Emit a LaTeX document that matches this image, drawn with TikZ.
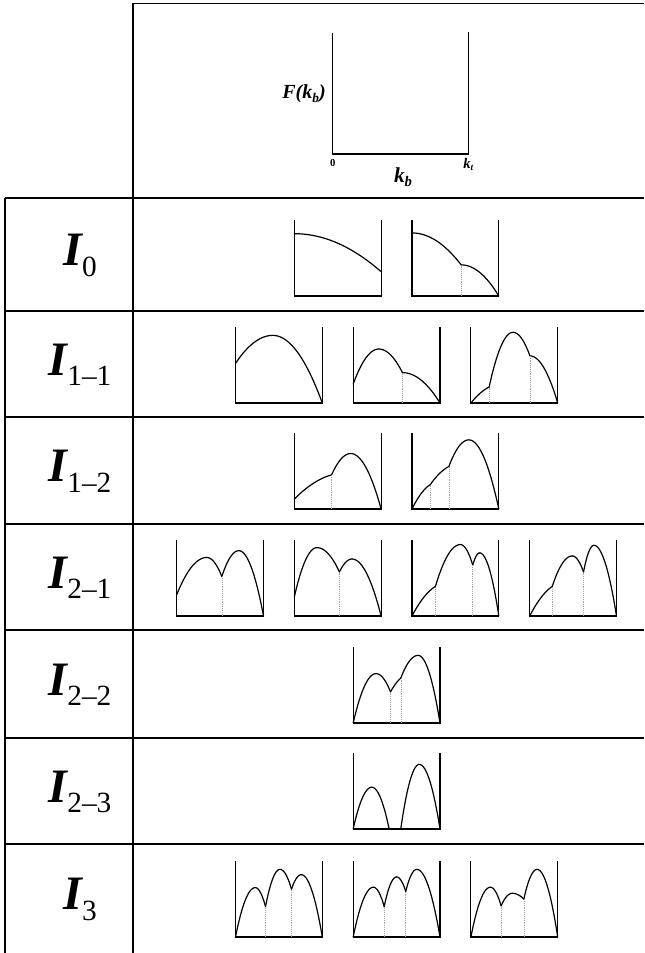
\documentclass[tikz,border=0pt]{standalone}
\usepackage{fontspec}
\setmainfont{Liberation Serif}
\usetikzlibrary{positioning}

% one parabolic piece from (#1,#2) to (#3,#4), vertex at x=#5
\newcommand{\kseg}[5]{\draw[curve] plot[domain=#1:#3,samples=20,smooth]
  (\x,{#2+(#2-#4)/((#3-#5)*(#3-#5)-(#1-#5)*(#1-#5))*((#1-#5)*(#1-#5)-(\x-#5)*(\x-#5))});}
\newcommand{\karch}[6]{\kseg{#1}{#2}{#3}{#4}{#3}\kseg{#3}{#4}{#5}{#6}{#3}}
\newcommand{\kcut}[2]{\draw[cutline] (#1,0) -- (#1,#2);}
\newcommand{\kframe}{\draw[axisline] (0,1) |- (1,0) -- (1,1);}
\newcommand{\rowlab}[1]{{\fontsize{36}{36}\selectfont\bfseries\itshape I}\raisebox{-8.2pt}{\fontsize{22}{22}\selectfont #1}}

\begin{document}
\begin{tikzpicture}[
  x=0.75pt, y=-0.75pt,
  rule/.style={line width=0.9pt, black},
  axisline/.style={line width=0.8pt, black},
  curve/.style={line width=0.9pt, black, line cap=round, line join=round},
  cutline/.style={line width=0.4pt, gray!70, densely dotted},
  wellbox/.style 2 args={shift={(#1,#2)}, x=65.1pt, y=57pt},
  rowname/.style={anchor=base, inner sep=0pt},
  axislab/.style={inner sep=0pt, font=\bfseries\itshape}
]
\useasboundingbox (0,0) rectangle (644,953);

% table
\draw[rule] (133,953) -- (133,3.3) -- (644,3.3);
\draw[rule] (5,198) -- (5,953);
\foreach \y in {198,311,417,524,630,738,844}
  \draw[rule] (5,\y) -- (644,\y);

% header plot
\coordinate (o) at (332.7,154);
\coordinate (ytop) at (332.7,33);
\coordinate (xend) at (468.3,154);
\coordinate (xtop) at (468.3,32);
\draw[axisline] (ytop) -- (o) -- (xend) -- (xtop);
\node[axislab, anchor=east, font=\fontsize{15}{15}\selectfont\bfseries\itshape] (fk) at (326,94) {F(k\raisebox{-0.35ex}{\fontsize{10}{10}\selectfont b})};
\node[axislab, below=4pt of o, font=\fontsize{8}{8}\selectfont\bfseries] (zero) {0};
\node[axislab, below=3pt of xend, font=\fontsize{11}{11}\selectfont\bfseries\itshape] (kt) {k\raisebox{-0.35ex}{\fontsize{7}{7}\selectfont t}};
\node[axislab, font=\fontsize{16}{16}\selectfont\bfseries\itshape] (kb) at (403,177) {k\raisebox{-0.4ex}{\fontsize{11}{11}\selectfont b}};

% row names
\node[rowname] (r0)  at (80,265.5) {\rowlab{0}};
\node[rowname] (r11) at (80,375)   {\rowlab{1–1}};
\node[rowname] (r12) at (80,481.5) {\rowlab{1–2}};
\node[rowname] (r21) at (80,588)   {\rowlab{2–1}};
\node[rowname] (r22) at (80,695)   {\rowlab{2–2}};
\node[rowname] (r23) at (80,802)   {\rowlab{2–3}};
\node[rowname] (r3)  at (80,909.5) {\rowlab{3}};

% I_0
\begin{scope}[wellbox={294.3}{296}]
  \kframe \kseg{0}{0.82}{1}{0.32}{0}
\end{scope}
\begin{scope}[wellbox={412}{296}]
  \kframe \kseg{0}{0.83}{0.566}{0.41}{0} \kseg{0.566}{0.41}{1}{0}{0.566}
  \kcut{0.566}{0.41}
\end{scope}

% I_1-1
\begin{scope}[wellbox={235.5}{403}]
  \kframe \karch{0}{0.52}{0.43}{0.89}{1}{0}
\end{scope}
\begin{scope}[wellbox={353.2}{403}]
  \kframe \karch{0}{0.25}{0.295}{0.71}{0.567}{0.40} \kseg{0.567}{0.40}{1}{0}{0.567}
  \kcut{0.567}{0.40}
\end{scope}
\begin{scope}[wellbox={470.9}{403}]
  \kframe \kseg{0}{0}{0.21}{0.21}{0.35} \karch{0.21}{0.21}{0.485}{0.93}{0.68}{0.62}
  \kseg{0.68}{0.62}{1}{0}{0.68}
  \kcut{0.21}{0.21} \kcut{0.68}{0.62}
\end{scope}

% I_1-2
\begin{scope}[wellbox={294.3}{509}]
  \kframe \kseg{0}{0.13}{0.43}{0.45}{0.6} \karch{0.43}{0.45}{0.65}{0.73}{1}{0}
  \kcut{0.43}{0.45}
\end{scope}
\begin{scope}[wellbox={412}{509}]
  \kframe \kseg{0}{0}{0.21}{0.32}{0.3} \kseg{0.21}{0.32}{0.425}{0.56}{0.55}
  \karch{0.425}{0.56}{0.655}{0.91}{1}{0}
  \kcut{0.21}{0.32} \kcut{0.425}{0.56}
\end{scope}

% I_2-1
\begin{scope}[wellbox={176.7}{616}]
  \kframe \karch{0}{0.28}{0.346}{0.77}{0.52}{0.52} \karch{0.52}{0.52}{0.716}{0.86}{1}{0}
  \kcut{0.52}{0.52}
\end{scope}
\begin{scope}[wellbox={294.3}{616}]
  \kframe \karch{0}{0.25}{0.26}{0.90}{0.52}{0.58} \karch{0.52}{0.58}{0.665}{0.75}{1}{0}
  \kcut{0.52}{0.58}
\end{scope}
\begin{scope}[wellbox={412}{616}]
  \kframe \kseg{0}{0}{0.27}{0.39}{0.4} \karch{0.27}{0.39}{0.557}{0.94}{0.70}{0.67}
  \karch{0.70}{0.67}{0.78}{0.83}{1}{0}
  \kcut{0.27}{0.39} \kcut{0.70}{0.67}
\end{scope}
\begin{scope}[wellbox={529.7}{616}]
  \kframe \kseg{0}{0}{0.26}{0.39}{0.4} \karch{0.26}{0.39}{0.49}{0.79}{0.62}{0.58}
  \karch{0.62}{0.58}{0.74}{0.93}{1}{0}
  \kcut{0.26}{0.39} \kcut{0.62}{0.58}
\end{scope}

% I_2-2
\begin{scope}[wellbox={353.2}{723}]
  \kframe \karch{0}{0}{0.262}{0.65}{0.43}{0.41} \kseg{0.43}{0.41}{0.548}{0.59}{0.65}
  \karch{0.548}{0.59}{0.748}{0.89}{1}{0}
  \kcut{0.43}{0.41} \kcut{0.548}{0.59}
\end{scope}

% I_2-3
\begin{scope}[wellbox={353.2}{829}]
  \kframe \karch{0}{0}{0.214}{0.55}{0.414}{0} \karch{0.548}{0}{0.762}{0.85}{1}{0}
\end{scope}

% I_3
\begin{scope}[wellbox={235.5}{937}]
  \kframe \karch{0}{0}{0.227}{0.65}{0.346}{0.40} \karch{0.346}{0.40}{0.512}{0.89}{0.645}{0.63}
  \karch{0.645}{0.63}{0.758}{0.82}{1}{0}
  \kcut{0.346}{0.40} \kcut{0.645}{0.63}
\end{scope}
\begin{scope}[wellbox={353.2}{937}]
  \kframe \karch{0}{0}{0.232}{0.655}{0.357}{0.40} \karch{0.357}{0.40}{0.5}{0.79}{0.605}{0.60}
  \karch{0.605}{0.60}{0.733}{0.89}{1}{0}
  \kcut{0.357}{0.40} \kcut{0.605}{0.60}
\end{scope}
\begin{scope}[wellbox={470.9}{937}]
  \kframe \karch{0}{0}{0.224}{0.655}{0.348}{0.41} \karch{0.348}{0.41}{0.476}{0.575}{0.61}{0.50}
  \karch{0.61}{0.50}{0.762}{0.89}{1}{0}
  \kcut{0.348}{0.41} \kcut{0.61}{0.50}
\end{scope}
\end{tikzpicture}
\end{document}
